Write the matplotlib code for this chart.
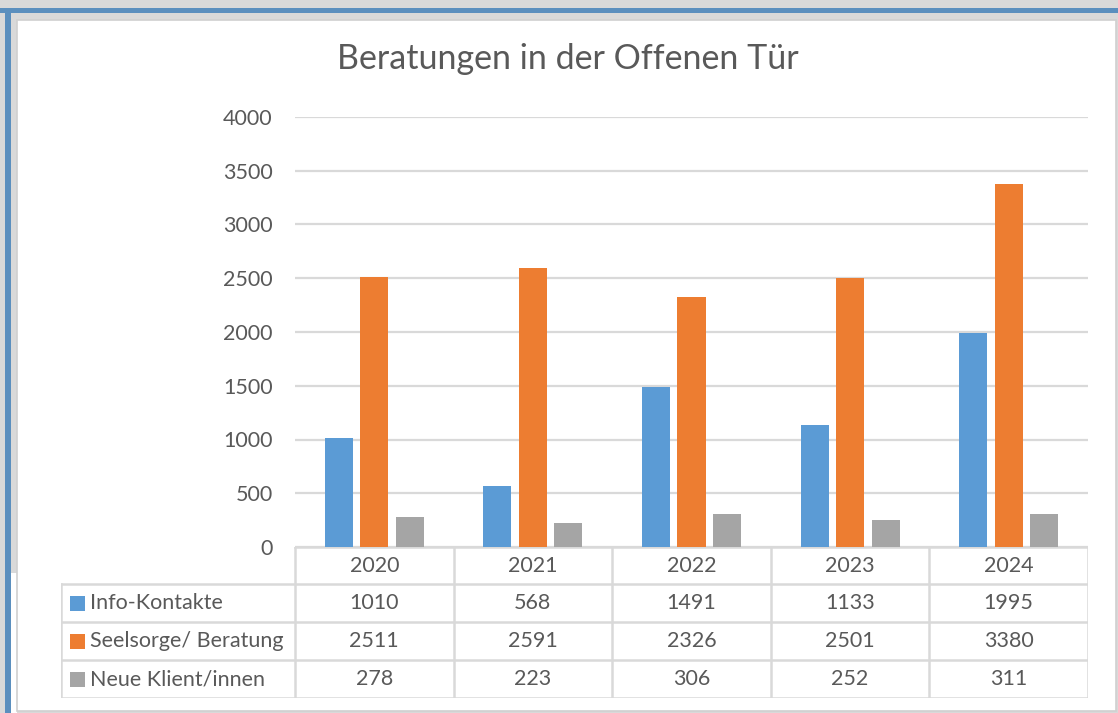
import matplotlib
matplotlib.use("Agg")
import matplotlib.pyplot as plt
from matplotlib.patches import Rectangle
import numpy as np

years = ["2020", "2021", "2022", "2023", "2024"]
series = ["Info-Kontakte", "Seelsorge/ Beratung", "Neue Klient/innen"]
info = [1010, 568, 1491, 1133, 1995]
seelsorge = [2511, 2591, 2326, 2501, 3380]
klienten = [278, 223, 306, 252, 311]
colors = ["#5B9BD5", "#ED7D31", "#A5A5A5"]
yticks = [0, 500, 1000, 1500, 2000, 2500, 3000, 3500, 4000]

W, H = 1118, 713
TXT = "#595959"
GRID = "#d9d9d9"
FS = 15.5
plt.rcParams["font.family"] = ["Lato", "DejaVu Sans"]


def fx(px):
    return px / W


def fy(py):
    return 1 - py / H


fig = plt.figure(figsize=(W / 100, H / 100), dpi=100, facecolor="#d9d9d9")


# frame / background pieces (behind the axes)
def frect(x0, y0, x1, y1, fc, ec="none", lw=0):
    fig.patches.append(Rectangle((fx(x0), fy(y1)), fx(x1 - x0), (y1 - y0) / H,
                                 transform=fig.transFigure, facecolor=fc,
                                 edgecolor=ec, linewidth=lw, zorder=-10))


frect(0, 8, W, 13, "#5B8FBE")
frect(5, 8, 11, H, "#5B8FBE")
frect(11, 573, 17, H, "white")
frect(17, 20, 1116, 711, "white", ec="#d0d0d0", lw=1.2)

# main plot axes
ax = fig.add_axes([fx(295), fy(547), fx(1088 - 295), (547 - 117) / H])
ax.set_facecolor("none")
x = np.arange(len(years))
w = 0.177
step = 0.224
for i, (vals, c) in enumerate(zip([info, seelsorge, klienten], colors)):
    ax.bar(x + (i - 1) * step, vals, width=w, color=c, zorder=3)
ax.set_xlim(-0.5, len(years) - 0.5)
ax.set_ylim(0, 4000)
ax.set_yticks(yticks)
ax.set_yticklabels([str(v) for v in yticks], color=TXT, fontsize=FS)
ax.tick_params(axis="y", length=0, pad=16)
ax.set_xticks([])
ax.grid(axis="y", color=GRID, linewidth=1.6, zorder=0)
for s in ax.spines.values():
    s.set_visible(False)

# data table below the plot
px_unit = (1088 - 295) / len(years)
left_units = (295 - 61) / px_unit
tab = fig.add_axes([fx(61), fy(698), fx(1088 - 61), (698 - 547) / H])
tab.set_xlim(-0.5 - left_units, len(years) - 0.5)
tab.set_ylim(0, 151)
tab.axis("off")
lc = dict(color=GRID, linewidth=1.8)
xl, xr = -0.5 - left_units, len(years) - 0.5
tab.plot([-0.5, xr], [151, 151], **lc)
for yy in [0, 38, 76, 114]:
    tab.plot([xl, xr], [yy, yy], **lc)
for k in range(len(years) + 1):
    tab.plot([k - 0.5, k - 0.5], [0, 151], **lc)
tab.plot([xl, xl], [0, 114], **lc)

for k, yr in enumerate(years):
    tab.text(k, 132.5, yr, ha="center", va="center", color=TXT, fontsize=FS)
rows = [info, seelsorge, klienten]
for r, (name, vals, c) in enumerate(zip(series, rows, colors)):
    yc = 95 - r * 38
    tab.add_patch(Rectangle((xl + 9 / px_unit, yc - 7.5), 15 / px_unit, 15,
                            facecolor=c, edgecolor="none"))
    tab.text(xl + 29 / px_unit, yc, name, ha="left", va="center", color=TXT,
             fontsize=FS)
    for k, v in enumerate(vals):
        tab.text(k, yc, str(v), ha="center", va="center", color=TXT,
                 fontsize=FS)

fig.text(fx(568), fy(69), "Beratungen in der Offenen Tür", ha="center",
         va="baseline", color=TXT, fontsize=24.5)

fig.savefig("out.png", dpi=100, facecolor=fig.get_facecolor())
